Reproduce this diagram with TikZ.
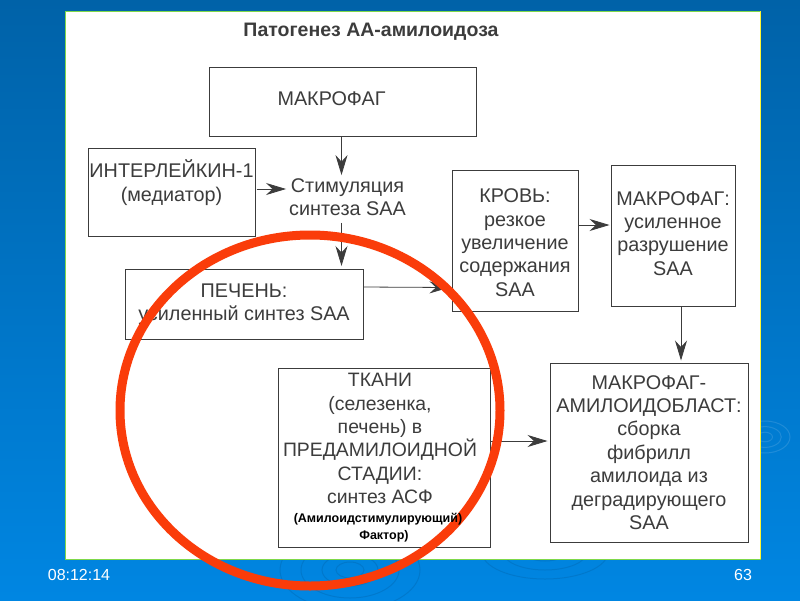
\documentclass[tikz,border=0pt]{standalone}
\usepackage{fontspec}
\setmainfont{Liberation Sans}
\usetikzlibrary{arrows.meta}
\definecolor{inkgray}{HTML}{3C3C3C}
\definecolor{seatop}{HTML}{0062A8}
\definecolor{seabot}{HTML}{0086E2}
\definecolor{ringred}{HTML}{FA3C0A}
\definecolor{panelline}{HTML}{7FD84A}
\newcommand\liftby[1]{\rule[-#1]{0pt}{0pt}}
\newcommand\nudge{\hspace*{8pt}\null}
\tikzset{
  boxlabel/.style={draw=inkgray,line width=1pt,fill=white,text=inkgray,align=center,inner sep=0pt,
    font=\fontsize{19.8}{23.4}\selectfont},
  link/.style={draw=inkgray,line width=0.8pt,-{Stealth[length=20pt,width=12pt]}},
  clockmark/.style={text=white,font=\fontsize{16}{18}\selectfont},
  ripple/.style={draw=white,opacity=0.12,line width=1pt},
  darkripple/.style={draw=seatop,opacity=0.35,line width=1pt}
}
\begin{document}
\begin{tikzpicture}[x=1pt,y=-1pt]
\useasboundingbox (0,0) rectangle (800,600);
\shade[top color=seatop,bottom color=seabot] (0,0) rectangle (800,600);
% ripples in the backdrop
\foreach \r in {6,13,20}
  \draw[ripple] (765,437) ellipse ({\r*1.25} and {\r*0.8});
\foreach \r in {10,20,35,50}
  \draw[darkripple] (350,570) ellipse ({\r*1.4} and {\r*0.8});
\foreach \r in {15,30,45}
  \draw[darkripple] (545,552) ellipse ({\r*1.4} and {\r*0.6});
\draw[panelline,fill=white,line width=1pt] (65,11) rectangle (760,559);
\draw[yellow!80!white,line width=1pt] (760,11) -- (760,559);
\node[text=inkgray,font=\fontsize{19.5}{22}\selectfont\bfseries] (title) at (371,31.5) {Патогенез АА-амилоидоза};
% boxes
\node[boxlabel,minimum width=267pt,minimum height=69pt] (makrofag) at (342.5,101.5) {МАКРОФАГ\hspace*{22pt}\liftby{5.6pt}};
\node[boxlabel,minimum width=167pt,minimum height=88pt] (interleukin) at (171.5,192) {ИНТЕРЛЕЙКИН-1\\(медиатор)\liftby{23pt}};
\node[text=inkgray,align=center,inner sep=3pt,font=\fontsize{19.8}{23.4}\selectfont] (stimul) at (347.5,197) {Стимуляция\\синтеза SAA};
\node[boxlabel,minimum width=238pt,minimum height=70pt] (pechen) at (244,304.5) {ПЕЧЕНЬ:\\усиленный синтез SAA};
\node[boxlabel,minimum width=126pt,minimum height=141pt] (krov) at (515,240.5) {\rule{0pt}{18pt}КРОВЬ:\\резкое\\увеличение\\содержания\\SAA};
\node[boxlabel,minimum width=124pt,minimum height=141pt] (makrofagb) at (673,235.5) {МАКРОФАГ:\\усиленное\\разрушение\\SAA\liftby{4.5pt}};
\node[boxlabel,minimum width=212pt,minimum height=179pt,font=\fontsize{19.4}{23.4}\selectfont] (tkani) at (384,457.5) {ТКАНИ\nudge\\(селезенка,\nudge\\печень) в\nudge\\ПРЕДАМИЛОИДНОЙ\nudge\\СТАДИИ:\nudge\\синтез АСФ\nudge\liftby{38pt}};
\node[boxlabel,minimum width=198pt,minimum height=179pt] (amiloid) at (649,452.5) {МАКРОФАГ-\\АМИЛОИДОБЛАСТ:\\сборка\\фибрилл\\амилоида из\\деградирующего\\SAA};
% arrows
\draw[link] ([xshift=-1pt]makrofag.south) -- ([xshift=-1pt]makrofag.south |- stimul.north);
\draw[link] ([yshift=3pt,xshift=1pt]interleukin.east) -- ([yshift=8pt]stimul.west);
\draw[link] ([xshift=-1pt,yshift=-4pt]makrofag.south |- stimul.south) -- ([xshift=-1pt,yshift=3pt]makrofag.south |- pechen.north);
\draw[link] ([yshift=17.5pt]pechen.east) -- ([yshift=-47pt,xshift=-2pt]krov.west);
\draw[link] ([yshift=15.5pt]krov.east) -- ([yshift=10.5pt,xshift=-1pt]makrofagb.west);
\draw[link] ([xshift=8pt]makrofagb.south) -- ([xshift=32pt,yshift=2pt]amiloid.north);
\draw[link] ([yshift=16.5pt]tkani.east) -- ([yshift=11.5pt,xshift=-2pt]amiloid.west);
% red ring on top
\draw[ringred,line width=9pt] (310,410.5) ellipse (190 and 175.5);
\node[align=center,inner sep=0pt,text=black,font=\fontsize{12.5}{17}\selectfont\bfseries] (factor) at (378,527.5) {(Амилоидстимулирующий)\\\hspace*{12pt}Фактор)};
\node[clockmark] (clock) at (79,575) {08:12:14};
\node[clockmark] (pagenum) at (743,575) {63};
\end{tikzpicture}
\end{document}
